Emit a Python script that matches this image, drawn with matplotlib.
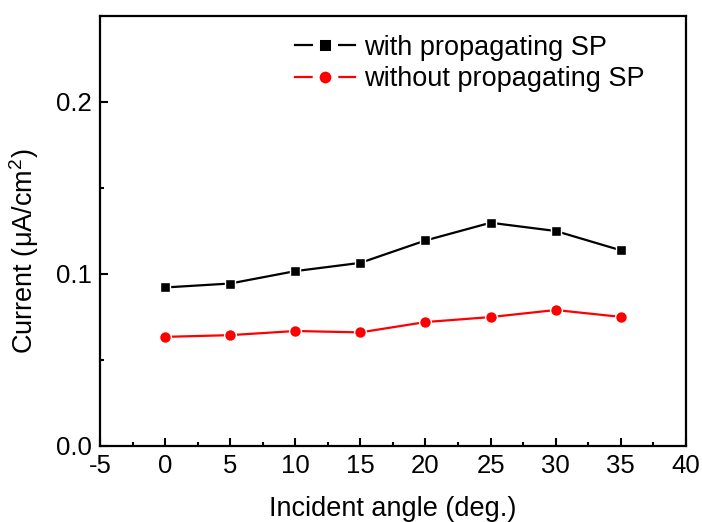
import matplotlib.pyplot as plt
from matplotlib.ticker import MultipleLocator

plt.rcParams['font.family'] = ['Liberation Sans', 'DejaVu Sans']
plt.rcParams['mathtext.fontset'] = 'custom'
plt.rcParams['mathtext.rm'] = 'Liberation Sans'
plt.rcParams['axes.unicode_minus'] = False

angle = [0, 5, 10, 15, 20, 25, 30, 35]
with_sp = [0.0921, 0.0944, 0.1016, 0.1064, 0.1194, 0.1297, 0.1249, 0.1137]
without_sp = [0.0634, 0.0644, 0.0668, 0.0660, 0.0720, 0.0749, 0.0790, 0.0750]

fig = plt.figure(figsize=(7.02, 5.22), dpi=100)
ax = fig.add_axes([0.1425, 0.1456, 0.8345, 0.8244])

ax.plot(angle, with_sp, color='black', lw=1.6, marker='s', ms=7.5,
        mec='white', mew=1.0, label='with propagating SP')
ax.plot(angle, without_sp, color='red', lw=1.6, marker='o', ms=8.5,
        mec='white', mew=1.0, label='without propagating SP')

ax.set_xlim(-5, 40)
ax.set_ylim(0, 0.25)
ax.xaxis.set_major_locator(MultipleLocator(5))
ax.xaxis.set_minor_locator(MultipleLocator(2.5))
ax.yaxis.set_major_locator(MultipleLocator(0.1))
ax.yaxis.set_minor_locator(MultipleLocator(0.05))
ax.tick_params(which='both', direction='in', width=1.5)
ax.tick_params(which='major', length=6, labelsize=18.5, pad=6)
ax.tick_params(which='minor', length=3)
for s in ax.spines.values():
    s.set_linewidth(1.6)

ax.set_xlabel('Incident angle (deg.)', fontsize=19.5, labelpad=13)
ax.set_ylabel('Current (μA/cm$^2$)', fontsize=19.5)
ax.yaxis.set_label_coords(-0.10, 0.453)

leg = ax.legend(loc='upper right', frameon=False, fontsize=19.5, handlelength=2.2,
                handletextpad=0.35, labelspacing=0.2, borderaxespad=0.3,
                bbox_to_anchor=(0.962, 1.0))
# thick white marker rim in the legend breaks the line around the symbol
for h in leg.legend_handles:
    h.set_markersize(h.get_markersize() + 5)
    h.set_markeredgewidth(5)

fig.savefig('out.png', dpi=100)
